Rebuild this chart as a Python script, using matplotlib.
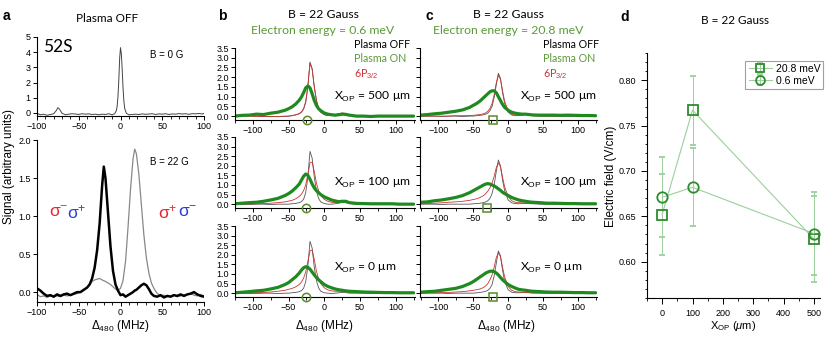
import matplotlib
matplotlib.use("Agg")
import matplotlib.pyplot as plt
from matplotlib.ticker import MultipleLocator

plt.rcParams['font.family'] = ['Liberation Sans', 'DejaVu Sans']
plt.rcParams['mathtext.fontset'] = 'custom'
plt.rcParams['mathtext.rm'] = 'Liberation Sans'
plt.rcParams['mathtext.it'] = 'Liberation Sans:italic'
plt.rcParams['axes.linewidth'] = 0.8

# ---------------- data ----------------
# panel a, top (B = 0 G)
a_top_x = [-100, -96, -92, -88, -84, -80, -77, -75, -73, -70, -66, -62, -58, -54, -50, -46, -42, -38, -34, -30,
           -26, -22, -18, -14, -10, -7, -5, -4, -3, -2, -1, 0, 1, 2, 3, 4, 5, 7, 10, 14, 18, 22,
           26, 30, 34, 38, 42, 46, 50, 54, 58, 62, 66, 70, 74, 78, 82, 86, 90, 94, 98, 100]
a_top_y = [-0.02, -0.12, -0.08, -0.15, -0.1, -0.05, 0.15, 0.35, 0.25, -0.02, -0.12, -0.08, -0.05, -0.07, -0.1, -0.05, -0.08, -0.06, -0.1, -0.08,
           -0.12, -0.08, -0.1, -0.05, -0.12, -0.05, 0.15, 0.45, 1.1, 2.2, 3.6, 4.3, 3.9, 2.9, 1.7, 0.8, 0.3, -0.02, -0.12, -0.1, -0.08, -0.1,
           -0.06, -0.09, -0.07, -0.05, -0.1, -0.06, -0.08, -0.05, -0.1, -0.06, -0.08, -0.04, -0.07, -0.05, -0.09, -0.04, -0.06, -0.03, -0.07, -0.02]

# panel a, bottom (B = 22 G)
a_bot_x = [-100, -96, -92, -88, -84, -80, -76, -72, -68, -64, -60, -56, -52, -48, -44, -40, -37, -34, -31, -28,
           -25, -22, -20, -18, -15, -12, -9, -6, -3, 0, 3, 6, 9, 12, 15, 17, 19, 22, 25, 28,
           31, 34, 37, 40, 44, 48, 52, 56, 60, 64, 68, 72, 76, 80, 84, 88, 92, 96, 100]
a_bot_sm = [0.05, 0.02, -0.02, -0.05, -0.04, -0.06, -0.03, -0.05, -0.03, -0.02, -0.04, -0.02, 0.0, 0.0, 0.03, 0.06, 0.1, 0.18, 0.32, 0.55,
            0.9, 1.4, 1.65, 1.5, 1.05, 0.6, 0.28, 0.1, 0.02, -0.04, -0.03, -0.06, -0.04, -0.02, 0.0, 0.02, 0.03, 0.06, 0.09, 0.11,
            0.09, 0.04, -0.02, -0.05, -0.06, -0.04, -0.07, -0.05, -0.06, -0.04, -0.05, -0.03, -0.05, -0.03, -0.02, 0.0, -0.03, -0.05, -0.06]
a_bot_sp = [-0.03, -0.06, -0.05, -0.07, -0.05, -0.06, -0.05, -0.06, -0.04, -0.05, -0.04, -0.03, -0.02, 0.0, 0.03, 0.06, 0.1, 0.14, 0.16, 0.17,
            0.18, 0.16, 0.15, 0.14, 0.12, 0.1, 0.07, 0.04, 0.02, 0.05, 0.15, 0.4, 0.85, 1.35, 1.75, 1.88, 1.82, 1.55, 1.15, 0.75,
            0.45, 0.25, 0.12, 0.05, -0.02, -0.05, -0.04, -0.06, -0.05, -0.04, -0.06, -0.05, -0.04, -0.03, -0.02, -0.04, -0.05, -0.03, -0.05]

# panels b, c: detuning grid (MHz)
det = [-125, -115, -105, -95, -85, -75, -65, -55, -50, -45,
       -40, -35, -32, -29, -26, -23, -20, -17, -14, -11,
       -8, -5, 0, 5, 10, 15, 20, 25, 30, 35,
       45, 55, 65, 75, 85, 95, 105, 115, 125]

# panel b (electron energy 0.6 meV)
b500_off = [0.0, 0.0, 0.02, 0.0, -0.02, -0.02, -0.03, -0.02, 0.0, 0.02,
            0.06, 0.12, 0.2, 0.35, 0.7, 1.5, 2.78, 2.45, 1.5, 0.8,
            0.4, 0.2, 0.07, 0.03, 0.03, 0.06, 0.1, 0.14, 0.12, 0.06,
            0.0, -0.02, 0.0, -0.02, 0.0, 0.0, 0.0, 0.0, 0.0]
b500_6p = [0.0, 0.02, 0.0, -0.02, -0.02, -0.03, -0.02, 0.0, 0.0, 0.03,
           0.07, 0.13, 0.22, 0.38, 0.75, 1.55, 2.72, 2.4, 1.5, 0.82,
           0.42, 0.22, 0.08, 0.04, 0.03, 0.07, 0.12, 0.16, 0.13, 0.06,
           0.02, 0.0, 0.0, -0.02, 0.0, 0.0, 0.0, 0.0, 0.0]
b500_on = [0.0, 0.04, 0.05, 0.1, 0.08, 0.15, 0.2, 0.3, 0.38, 0.48,
           0.62, 0.82, 0.98, 1.2, 1.45, 1.55, 1.45, 1.15, 0.8, 0.55,
           0.38, 0.28, 0.16, 0.1, 0.07, 0.05, 0.07, 0.1, 0.09, 0.05,
           0.0, 0.0, -0.02, 0.0, 0.0, 0.0, 0.0, 0.0, 0.0]
b100_off = [0.0, 0.0, -0.02, 0.0, 0.0, -0.02, 0.0, 0.0, 0.0, 0.02,
            0.04, 0.08, 0.13, 0.25, 0.6, 1.4, 2.75, 2.4, 1.4, 0.7,
            0.3, 0.12, 0.03, 0.0, 0.0, 0.02, 0.05, 0.1, 0.08, 0.03,
            0.0, 0.0, 0.0, 0.0, 0.0, 0.0, 0.0, 0.0, 0.0]
b100_6p = [0.0, 0.0, 0.02, 0.02, 0.03, 0.05, 0.08, 0.12, 0.16, 0.2,
           0.28, 0.4, 0.52, 0.7, 1.0, 1.55, 2.15, 2.2, 1.7, 1.1,
           0.7, 0.45, 0.25, 0.15, 0.1, 0.08, 0.1, 0.15, 0.15, 0.08,
           0.03, 0.02, 0.0, 0.0, 0.0, 0.0, 0.0, 0.0, 0.0]
b100_on = [0.02, 0.05, 0.08, 0.1, 0.15, 0.22, 0.3, 0.45, 0.55, 0.68,
           0.85, 1.05, 1.25, 1.45, 1.57, 1.5, 1.3, 1.05, 0.85, 0.7,
           0.6, 0.5, 0.38, 0.3, 0.22, 0.17, 0.13, 0.15, 0.15, 0.08,
           0.04, 0.03, 0.02, 0.02, 0.02, 0.02, 0.0, 0.0, 0.0]
b0_off = [0.0, 0.0, -0.02, -0.02, 0.0, 0.0, -0.02, 0.0, 0.0, 0.02,
          0.04, 0.08, 0.13, 0.25, 0.6, 1.4, 2.7, 2.35, 1.35, 0.65,
          0.28, 0.1, 0.02, 0.0, -0.02, 0.0, 0.02, 0.04, 0.03, 0.0,
          0.0, 0.0, 0.0, 0.0, 0.0, 0.0, 0.0, 0.0, 0.0]
b0_6p = [0.0, 0.0, 0.02, 0.03, 0.04, 0.06, 0.1, 0.15, 0.2, 0.25,
         0.33, 0.45, 0.58, 0.78, 1.1, 1.65, 2.2, 2.25, 1.75, 1.15,
         0.75, 0.5, 0.28, 0.17, 0.12, 0.1, 0.1, 0.1, 0.08, 0.05,
         0.03, 0.02, 0.0, 0.0, 0.0, 0.0, 0.0, 0.0, 0.0]
b0_on = [0.02, 0.05, 0.08, 0.12, 0.15, 0.22, 0.3, 0.45, 0.55, 0.7,
         0.85, 1.05, 1.2, 1.32, 1.38, 1.35, 1.25, 1.1, 0.95, 0.82,
         0.7, 0.6, 0.45, 0.35, 0.28, 0.22, 0.18, 0.15, 0.12, 0.1,
         0.08, 0.06, 0.05, 0.04, 0.03, 0.03, 0.02, 0.02, 0.02]

# panel c (electron energy 20.8 meV)
c500_off = [0.0, 0.0, 0.0, -0.02, 0.0, 0.0, -0.02, 0.0, 0.0, 0.02,
            0.04, 0.07, 0.1, 0.16, 0.28, 0.5, 0.95, 1.6, 2.2, 1.95,
            1.2, 0.65, 0.2, 0.06, 0.02, 0.03, 0.05, 0.08, 0.06, 0.02,
            0.0, 0.0, 0.0, 0.0, 0.0, 0.0, 0.0, 0.0, 0.0]
c500_6p = [0.0, 0.0, 0.0, 0.0, 0.0, 0.02, 0.02, 0.03, 0.04, 0.06,
           0.08, 0.12, 0.17, 0.25, 0.4, 0.65, 1.1, 1.7, 2.1, 1.9,
           1.3, 0.75, 0.28, 0.1, 0.05, 0.05, 0.07, 0.1, 0.08, 0.04,
           0.02, 0.0, 0.0, 0.0, 0.0, 0.0, 0.0, 0.0, 0.0]
c500_on = [0.05, 0.08, 0.12, 0.15, 0.2, 0.25, 0.32, 0.45, 0.55, 0.65,
           0.78, 0.95, 1.05, 1.15, 1.25, 1.3, 1.3, 1.2, 1.0, 0.8,
           0.6, 0.45, 0.3, 0.2, 0.15, 0.12, 0.1, 0.1, 0.08, 0.06,
           0.05, 0.05, 0.05, 0.04, 0.05, 0.04, 0.03, 0.03, 0.02]
c100_off = [0.0, 0.0, 0.0, -0.02, 0.0, 0.0, 0.0, 0.0, 0.02, 0.03,
            0.05, 0.08, 0.12, 0.18, 0.3, 0.55, 1.0, 1.7, 2.3, 2.0,
            1.25, 0.7, 0.22, 0.07, 0.03, 0.02, 0.03, 0.04, 0.03, 0.02,
            0.0, 0.0, 0.0, 0.0, 0.0, 0.0, 0.0, 0.0, 0.0]
c100_6p = [0.02, 0.03, 0.05, 0.07, 0.1, 0.12, 0.15, 0.2, 0.24, 0.28,
           0.35, 0.45, 0.55, 0.68, 0.85, 1.1, 1.45, 1.9, 2.15, 1.95,
           1.4, 0.9, 0.4, 0.18, 0.1, 0.08, 0.07, 0.06, 0.05, 0.04,
           0.03, 0.02, 0.02, 0.02, 0.0, 0.0, 0.0, 0.0, 0.0]
c100_on = [0.1, 0.12, 0.18, 0.22, 0.28, 0.35, 0.45, 0.6, 0.7, 0.8,
           0.9, 1.0, 1.05, 1.07, 1.05, 1.0, 0.95, 0.88, 0.8, 0.72,
           0.62, 0.55, 0.45, 0.35, 0.28, 0.22, 0.18, 0.15, 0.12, 0.1,
           0.08, 0.05, 0.05, 0.04, 0.03, 0.03, 0.02, 0.02, 0.02]
c0_off = [0.0, 0.0, 0.0, 0.0, -0.02, 0.0, 0.0, 0.0, 0.0, 0.02,
          0.04, 0.07, 0.1, 0.15, 0.25, 0.45, 0.9, 1.55, 2.2, 1.95,
          1.2, 0.6, 0.18, 0.05, 0.02, 0.02, 0.03, 0.03, 0.02, 0.0,
          0.0, 0.0, 0.0, 0.0, 0.0, 0.0, 0.0, 0.0, 0.0]
c0_6p = [0.0, 0.02, 0.02, 0.03, 0.04, 0.06, 0.08, 0.12, 0.15, 0.18,
         0.22, 0.3, 0.38, 0.5, 0.7, 0.95, 1.35, 1.85, 2.1, 1.9,
         1.35, 0.85, 0.35, 0.15, 0.08, 0.06, 0.05, 0.05, 0.04, 0.03,
         0.02, 0.0, 0.0, 0.0, 0.0, 0.0, 0.0, 0.0, 0.0]
c0_on = [0.05, 0.08, 0.1, 0.15, 0.2, 0.25, 0.35, 0.5, 0.6, 0.72,
         0.85, 0.97, 1.05, 1.1, 1.14, 1.15, 1.12, 1.05, 0.95, 0.82,
         0.7, 0.6, 0.45, 0.35, 0.27, 0.2, 0.17, 0.15, 0.12, 0.1,
         0.08, 0.06, 0.05, 0.05, 0.04, 0.03, 0.03, 0.02, 0.02]

# peak positions of plasma-ON traces (markers on the axis)
b_peak = [-24, -25, -25]
c_peak = [-21, -30, -21]
xop_labels = ["500", "100", "0"]

# panel d
d_x = [0, 100, 500]
d_sq = [0.652, 0.767, 0.625]
d_sq_err = [0.045, 0.038, 0.047]
d_ci = [0.671, 0.682, 0.631]
d_ci_err = [0.044, 0.043, 0.046]

# ---------------- figure ----------------
W, H = 830, 342
fig = plt.figure(figsize=(W / 100, H / 100), dpi=100)

GREEN = '#1f8a1f'
TGREEN = '#5a9a38'
RED = '#cc3333'
GRAY = '#555555'
CAL = ['Lato', 'DejaVu Sans']


def px_axes(l, t, r, b):
    return fig.add_axes([l / W, 1 - b / H, (r - l) / W, (b - t) / H])


def ftext(x, y, s, **kw):
    kw.setdefault('va', 'center')
    fig.text(x / W, 1 - y / H, s, **kw)


def style(ax, labelsize=7, ylabels=True, pad=1.5, length=3):
    for s in ['top', 'right']:
        ax.spines[s].set_visible(False)
    ax.tick_params(direction='out', length=length, width=0.7, labelsize=labelsize, pad=pad)
    ax.tick_params(which='minor', direction='out', length=1.8, width=0.6)
    if not ylabels:
        ax.tick_params(axis='y', labelleft=False)


# ---- panel a ----
axa1 = px_axes(37, 37, 204, 116)
axa1.plot(a_top_x, a_top_y, color='#444444', lw=0.7)
axa1.set_xlim(-100, 100)
axa1.set_ylim(-0.2, 5)
axa1.xaxis.set_major_locator(MultipleLocator(50))
axa1.xaxis.set_minor_locator(MultipleLocator(10))
axa1.yaxis.set_major_locator(MultipleLocator(1))
style(axa1, 6.5)

axa2 = px_axes(37, 140, 204, 302)
axa2.plot(a_bot_x, a_bot_sp, color='#888888', lw=0.9)
axa2.plot(a_bot_x, a_bot_sm, color='black', lw=1.8)
axa2.set_xlim(-100, 100)
axa2.set_ylim(-0.13, 2.0)
axa2.xaxis.set_major_locator(MultipleLocator(50))
axa2.xaxis.set_minor_locator(MultipleLocator(10))
axa2.yaxis.set_major_locator(MultipleLocator(0.5))
style(axa2, 6.5)

ftext(3, 16, 'a', fontsize=10, fontweight='bold', ha='left')
ftext(107, 18, 'Plasma OFF', fontsize=8.5, ha='center', family=CAL)
ftext(43, 47, '52S', fontsize=12.5, ha='left', family=CAL)
ftext(150, 55, 'B = 0 G', fontsize=7, ha='left')
ftext(150, 162, 'B = 22 G', fontsize=7, ha='left')
ftext(9, 166, 'Signal (arbitrary units)', fontsize=8.5, rotation=90, ha='center')
ftext(120, 326, r'$\Delta_{480}$ (MHz)', fontsize=8.5, ha='center')

SR, SB = '#e8262b', '#2a3fd6'
ftext(49, 212, 'σ$^{-}$', color=SR, fontsize=12.5, ha='left')
ftext(67, 212, 'σ$^{+}$', color=SB, fontsize=12.5, ha='left')
ftext(158, 212, 'σ$^{+}$', color=SR, fontsize=12.5, ha='left')
ftext(178, 212, 'σ$^{-}$', color=SB, fontsize=12.5, ha='left')

# ---- panels b and c ----
rows = [(48, 120), (137, 208), (226, 297)]
b_sets = [(b500_off, b500_6p, b500_on), (b100_off, b100_6p, b100_on), (b0_off, b0_6p, b0_on)]
c_sets = [(c500_off, c500_6p, c500_on), (c100_off, c100_6p, c100_on), (c0_off, c0_6p, c0_on)]

for col, (l, r, sets, peaks, mk, show_y, xl) in enumerate([
        (235, 415, b_sets, b_peak, 'o', True, (-125, 127)),
        (420, 597, c_sets, c_peak, 's', False, (-126, 127))]):
    for i, (t, btm) in enumerate(rows):
        ax = px_axes(l, t, r, btm)
        off, p6, on = sets[i]
        ax.plot(det, off, color=GRAY, lw=0.6)
        ax.plot(det, p6, color=RED, lw=0.6)
        ax.plot(det, on, color=GREEN, lw=2.3, solid_capstyle='round')
        ax.plot([peaks[i]], [-0.2], marker=mk, ms=6 if mk == 'o' else 5.5, mfc='none',
                mec='#5a8a2a', mew=1.1, clip_on=False, zorder=5)
        ax.set_xlim(*xl)
        ax.set_ylim(-0.2, 3.5)
        ax.xaxis.set_major_locator(MultipleLocator(50))
        ax.xaxis.set_minor_locator(MultipleLocator(25))
        ax.yaxis.set_major_locator(MultipleLocator(0.5))
        ax.yaxis.set_major_formatter(matplotlib.ticker.FormatStrFormatter('%.1f'))
        style(ax, 6.5, ylabels=show_y)
        xo = 334 if col == 0 else 520
        ftext(xo, [97, 183, 268][i], r'X$_{\rm OP}$ = ' + xop_labels[i] + ' μm',
              fontsize=8.7, ha='left', family=CAL)

for x0, letter, energy, xc, xl in [(218, 'b', '0.6', 323, 354), (425, 'c', '20.8', 508, 543)]:
    ftext(x0, 16, letter, fontsize=10, fontweight='bold', ha='left')
    ftext(xc, 15, 'B = 22 Gauss', fontsize=8.7, ha='center', family=CAL)
    ftext(xc, 30, 'Electron energy = ' + energy + ' meV', fontsize=8.8, ha='center',
          color=TGREEN, family=CAL)
    ftext(xl, 44, 'Plasma OFF', fontsize=7.7, ha='left', family=CAL)
    ftext(xl, 59, 'Plasma ON', fontsize=7.7, ha='left', color=TGREEN, family=CAL)
    ftext(xl, 74, r'6P$_{3/2}$', fontsize=7.7, ha='left', color=RED, family=CAL)
ftext(324, 326, r'$\Delta_{480}$ (MHz)', fontsize=8.5, ha='center')
ftext(506, 326, r'$\Delta_{480}$ (MHz)', fontsize=8.5, ha='center')

# ---- panel d ----
axd = px_axes(647, 53, 820, 298)
DG = '#2e8b2e'
LG = '#9ccf9c'
axd.errorbar(d_x, d_sq, yerr=d_sq_err, color=LG, lw=0.8, elinewidth=0.7, capsize=2.5,
             capthick=0.7, marker='s', ms=6.5, mfc='none', mec=DG, mew=1.3, label='20.8 meV')
axd.errorbar(d_x, d_ci, yerr=d_ci_err, color=LG, lw=0.8, elinewidth=0.7, capsize=2.5,
             capthick=0.7, marker='o', ms=7.5, mfc='none', mec=DG, mew=1.3, label='0.6 meV')
axd.set_xlim(-50, 520)
axd.set_ylim(0.56, 0.83)
axd.xaxis.set_major_locator(MultipleLocator(100))
axd.xaxis.set_minor_locator(MultipleLocator(50))
axd.yaxis.set_major_locator(MultipleLocator(0.05))
axd.yaxis.set_minor_locator(MultipleLocator(0.01))
axd.yaxis.set_major_formatter(matplotlib.ticker.FormatStrFormatter('%.2f'))
style(axd, 6.5, pad=4, length=4)
leg = axd.legend(loc='upper right', bbox_to_anchor=(1.05, 0.99), fontsize=7.5, frameon=True,
                 fancybox=False, edgecolor='#888888', handlelength=2.2, borderpad=0.3,
                 labelspacing=0.2, handletextpad=0.4, markerscale=0.85)
leg.get_frame().set_linewidth(0.8)

ftext(620, 17, 'd', fontsize=10, fontweight='bold', ha='left')
ftext(735, 20, 'B = 22 Gauss', fontsize=8.5, ha='center', family=CAL)
ftext(611, 176, 'Electric field (V/cm)', fontsize=8.5, rotation=90, ha='center')
ftext(733, 326, r'X$_{\rm OP}$ ($\mu$m)', fontsize=8, ha='center')

fig.savefig('out.png', dpi=100)
